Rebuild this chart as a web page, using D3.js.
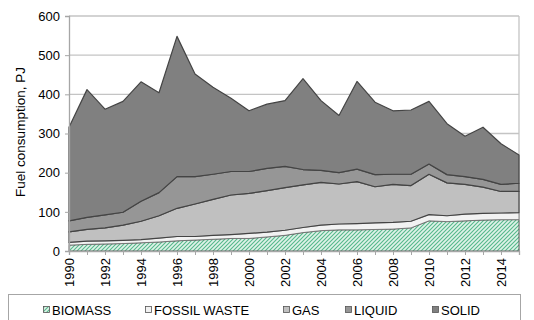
<!DOCTYPE html>
<html>
<head>
<meta charset="utf-8">
<script src="https://cdn.jsdelivr.net/npm/d3@7"></script>
<style>
  html, body { margin: 0; padding: 0; background: #fff; }
  svg { display: block; font-family: "Liberation Sans", Arial, sans-serif; }
</style>
</head>
<body>
<svg id="chart" width="534" height="320"></svg>
<script>
const years = [1990,1991,1992,1993,1994,1995,1996,1997,1998,1999,2000,2001,2002,2003,2004,2005,2006,2007,2008,2009,2010,2011,2012,2013,2014,2015];
const biomass     = [15,17,18,19,21,23,26,28,30,32,32,36,40,47,52,54,54,55,56,59,77,75,77,79,80,80];
const fossilWaste = [7,8,8,8,8,10,11,9,10,10,13,12,13,13,14,15,16,17,17,17,16,15,17,17,17,18];
const gas         = [27,30,33,39,47,57,72,83,92,101,102,106,109,109,109,102,107,92,97,91,103,84,76,67,55,54];
const liquid      = [28,31,33,33,51,59,81,70,64,60,56,57,54,39,31,29,32,31,26,29,26,21,20,20,18,21];
const solid       = [239,326,270,283,305,255,358,262,222,187,155,164,168,232,178,146,224,185,162,164,160,130,103,133,104,72];
const seriesNames = ["BIOMASS","FOSSIL WASTE","GAS","LIQUID","SOLID"];
const xTickLabels = [1990,1992,1994,1996,1998,2000,2002,2004,2006,2008,2010,2012,2014];
const yTicks = [0,100,200,300,400,500,600];
const yTitle = "Fuel consumption, PJ";

const fills = ["url(#hatch)","#f2f2f2","#c0c0c0","#969696","#808080"];

const svg = d3.select("#chart");
const defs = svg.append("defs");
const pat = defs.append("pattern").attr("id","hatch").attr("patternUnits","userSpaceOnUse")
  .attr("width",4).attr("height",4);
pat.append("rect").attr("width",4).attr("height",4).attr("fill","#dff3e9");
pat.append("path").attr("d","M-1,1 l2,-2 M0,4 l4,-4 M3,5 l2,-2")
  .attr("stroke","#55b88b").attr("stroke-width",1.1);

const mLeft = 69, mRight = 519, mTop = 16, mBottom = 251;
const x = d3.scaleLinear().domain([1990,2015]).range([mLeft,mRight]);
const y = d3.scaleLinear().domain([0,600]).range([mBottom,mTop]);

const rows = years.map((yr,i)=>({year:yr, BIOMASS:biomass[i], "FOSSIL WASTE":fossilWaste[i], GAS:gas[i], LIQUID:liquid[i], SOLID:solid[i]}));
const stacked = d3.stack().keys(seriesNames)(rows);

// gridlines
svg.append("g").selectAll("line").data(yTicks.filter(d=>d>0)).join("line")
  .attr("x1",mLeft).attr("x2",mRight).attr("y1",d=>y(d)).attr("y2",d=>y(d))
  .attr("stroke","#c4c4c4").attr("stroke-width",1.3);
// right border
svg.append("line").attr("x1",mRight).attr("x2",mRight).attr("y1",mTop).attr("y2",mBottom)
  .attr("stroke","#c4c4c4").attr("stroke-width",1.3);

const area = d3.area().x(d=>x(d.data.year)).y0(d=>y(d[0])).y1(d=>y(d[1]));
svg.append("g").selectAll("path").data(stacked).join("path")
  .attr("d",area)
  .attr("fill",(d,i)=>fills[i])
  .attr("stroke",(d,i)=> i===1 ? "#6a6a6a" : "#444")
  .attr("stroke-width",(d,i)=> i<2 ? 0.8 : 1.2)
  .attr("stroke-linejoin","round");

// axes
const yAxis = d3.axisLeft(y).tickValues(yTicks).tickSize(4).tickPadding(5);
const gy = svg.append("g").attr("transform",`translate(${mLeft},0)`).call(yAxis);
gy.select(".domain").attr("stroke","#a6a6a6").attr("stroke-width",1.3);
gy.selectAll(".tick line").attr("stroke","#a6a6a6");
gy.selectAll("text").attr("font-size",13).attr("fill","#000")
  .attr("font-family","Liberation Sans, Arial, sans-serif");

const xAxis = d3.axisBottom(x).tickValues(years).tickSize(4).tickFormat(d=> xTickLabels.includes(d) ? d : "");
const gx = svg.append("g").attr("transform",`translate(0,${mBottom})`).call(xAxis);
gx.select(".domain").attr("stroke","#a6a6a6").attr("stroke-width",1.3);
gx.selectAll(".tick line").attr("stroke","#a6a6a6");
gx.selectAll("text").attr("font-size",13).attr("fill","#000")
  .attr("font-family","Liberation Sans, Arial, sans-serif")
  .attr("transform","rotate(-90)").attr("text-anchor","end")
  .attr("x",-7).attr("y",0).attr("dy","0.35em");

svg.append("text").attr("transform","translate(25,132) rotate(-90)")
  .attr("text-anchor","middle").attr("font-size",13.5).attr("fill","#000").text(yTitle);

// legend
svg.append("rect").attr("x",8.5).attr("y",294.5).attr("width",512).attr("height",40)
  .attr("fill","#fff").attr("stroke","#a6a6a6").attr("stroke-width",1);
const legX = [43,145,283,345,432];
const lg = svg.append("g").selectAll("g").data(seriesNames).join("g")
  .attr("transform",(d,i)=>`translate(${legX[i]},0)`);
lg.append("rect").attr("x",0.5).attr("y",306.5).attr("width",6).attr("height",6)
  .attr("fill",(d,i)=>fills[i]).attr("stroke","#555").attr("stroke-width",0.8);
lg.append("text").attr("x",9).attr("y",315).attr("font-size",13).attr("fill","#000").text(d=>d);
</script>
</body>
</html>
